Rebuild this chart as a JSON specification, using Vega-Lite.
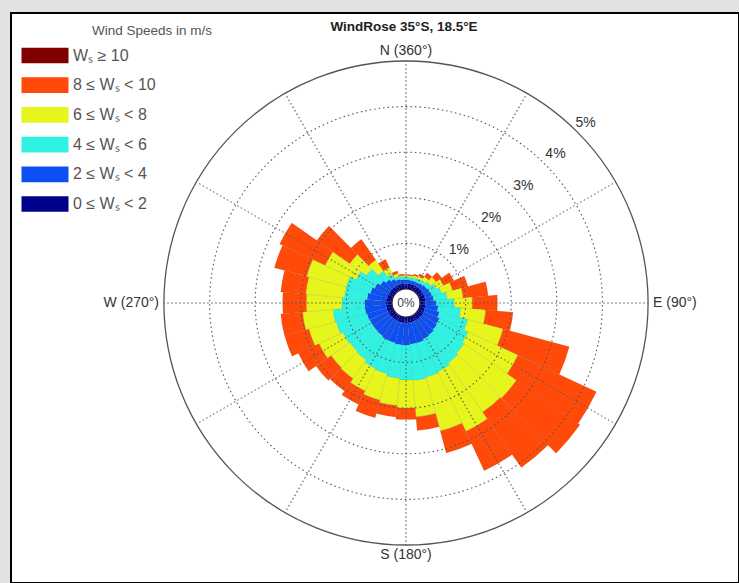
{
  "$schema": "https://vega.github.io/schema/vega-lite/v6.json",
  "width": 728,
  "height": 570,
  "autosize": {"type": "none"},
  "padding": {"left": 11, "top": 13, "right": 0, "bottom": 0},
  "background": "#e2e2e2",
  "config": {
    "font": "Liberation Sans",
    "view": {"fill": "white", "stroke": "black", "strokeWidth": 2}
  },
  "title": {
    "text": "WindRose 35°S, 18.5°E",
    "fontSize": 13.5,
    "fontWeight": "bold",
    "color": "#222222",
    "anchor": "middle",
    "frame": "group",
    "offset": -20,
    "dx": 29
  },
  "datasets": {
    "rose": [
      {"dir": 0, "w0": 0.12, "w2": 0.08, "w4": 0.07, "w6": 0.03, "w8": 0.02},
      {"dir": 10, "w0": 0.12, "w2": 0.08, "w4": 0.06, "w6": 0.04, "w8": 0.02},
      {"dir": 20, "w0": 0.12, "w2": 0.08, "w4": 0.07, "w6": 0.05, "w8": 0.03},
      {"dir": 30, "w0": 0.12, "w2": 0.08, "w4": 0.08, "w6": 0.07, "w8": 0.05},
      {"dir": 40, "w0": 0.12, "w2": 0.10, "w4": 0.08, "w6": 0.10, "w8": 0.10},
      {"dir": 50, "w0": 0.12, "w2": 0.12, "w4": 0.11, "w6": 0.15, "w8": 0.15},
      {"dir": 60, "w0": 0.12, "w2": 0.14, "w4": 0.16, "w6": 0.18, "w8": 0.25},
      {"dir": 70, "w0": 0.12, "w2": 0.16, "w4": 0.22, "w6": 0.25, "w8": 0.35},
      {"dir": 80, "w0": 0.12, "w2": 0.18, "w4": 0.30, "w6": 0.35, "w8": 0.55},
      {"dir": 90, "w0": 0.12, "w2": 0.23, "w4": 0.40, "w6": 0.40, "w8": 0.55},
      {"dir": 100, "w0": 0.12, "w2": 0.28, "w4": 0.50, "w6": 0.55, "w8": 0.60},
      {"dir": 110, "w0": 0.12, "w2": 0.33, "w4": 0.65, "w6": 0.80, "w8": 1.50},
      {"dir": 120, "w0": 0.13, "w2": 0.37, "w4": 0.70, "w6": 1.20, "w8": 1.90},
      {"dir": 130, "w0": 0.13, "w2": 0.39, "w4": 0.73, "w6": 1.40, "w8": 1.70},
      {"dir": 140, "w0": 0.13, "w2": 0.42, "w4": 0.75, "w6": 1.32, "w8": 1.48},
      {"dir": 150, "w0": 0.13, "w2": 0.44, "w4": 0.78, "w6": 1.45, "w8": 0.95},
      {"dir": 160, "w0": 0.13, "w2": 0.47, "w4": 0.78, "w6": 1.22, "w8": 0.50},
      {"dir": 170, "w0": 0.13, "w2": 0.47, "w4": 0.80, "w6": 0.80, "w8": 0.30},
      {"dir": 180, "w0": 0.13, "w2": 0.49, "w4": 0.76, "w6": 0.62, "w8": 0.25},
      {"dir": 190, "w0": 0.13, "w2": 0.49, "w4": 0.73, "w6": 0.60, "w8": 0.25},
      {"dir": 200, "w0": 0.13, "w2": 0.47, "w4": 0.70, "w6": 0.60, "w8": 0.40},
      {"dir": 210, "w0": 0.13, "w2": 0.47, "w4": 0.68, "w6": 0.54, "w8": 0.33},
      {"dir": 220, "w0": 0.13, "w2": 0.45, "w4": 0.64, "w6": 0.50, "w8": 0.33},
      {"dir": 230, "w0": 0.13, "w2": 0.44, "w4": 0.63, "w6": 0.50, "w8": 0.40},
      {"dir": 240, "w0": 0.13, "w2": 0.44, "w4": 0.65, "w6": 0.58, "w8": 0.50},
      {"dir": 250, "w0": 0.13, "w2": 0.45, "w4": 0.70, "w6": 0.62, "w8": 0.55},
      {"dir": 260, "w0": 0.13, "w2": 0.47, "w4": 0.70, "w6": 0.67, "w8": 0.48},
      {"dir": 270, "w0": 0.13, "w2": 0.47, "w4": 0.50, "w6": 0.78, "w8": 0.52},
      {"dir": 280, "w0": 0.13, "w2": 0.42, "w4": 0.50, "w6": 0.85, "w8": 0.55},
      {"dir": 290, "w0": 0.12, "w2": 0.38, "w4": 0.55, "w6": 0.90, "w8": 0.73},
      {"dir": 300, "w0": 0.12, "w2": 0.33, "w4": 0.45, "w6": 0.75, "w8": 1.10},
      {"dir": 310, "w0": 0.12, "w2": 0.26, "w4": 0.37, "w6": 0.45, "w8": 0.88},
      {"dir": 320, "w0": 0.12, "w2": 0.20, "w4": 0.23, "w6": 0.30, "w8": 0.55},
      {"dir": 330, "w0": 0.12, "w2": 0.15, "w4": 0.13, "w6": 0.15, "w8": 0.20},
      {"dir": 340, "w0": 0.12, "w2": 0.11, "w4": 0.07, "w6": 0.06, "w8": 0.06},
      {"dir": 350, "w0": 0.12, "w2": 0.09, "w4": 0.06, "w6": 0.03, "w8": 0.03}
    ],
    "rings": [{"p": 1, "t": "1%"}, {"p": 2, "t": "2%"}, {"p": 3, "t": "3%"}, {"p": 4, "t": "4%"}],
    "outer": [{"p": 5, "t": "5%"}],
    "spokes": [{"a": 0}, {"a": 30}, {"a": 60}, {"a": 90}, {"a": 120}, {"a": 150}, {"a": 180}, {"a": 210}, {"a": 240}, {"a": 270}, {"a": 300}, {"a": 330}],
    "compass": [
      {"a": 0, "t": "N (360°)"},
      {"a": 90, "t": "E (90°)"},
      {"a": 180, "t": "S (180°)"},
      {"a": 270, "t": "W (270°)"}
    ]
  },
  "layer": [
    {
      "data": {"name": "rose"},
      "transform": [
        {"fold": ["w0", "w2", "w4", "w6", "w8"], "as": ["bin", "f"]},
        {"stack": "f", "groupby": ["dir"], "sort": [{"field": "bin", "order": "ascending"}], "as": ["r0", "r1"]},
        {"bin": {"step": 10, "extent": [-5, 355], "nice": false}, "field": "dir", "as": ["a0", "a1"]}
      ],
      "mark": {"type": "arc", "stroke": "#000000", "strokeOpacity": 0.12, "strokeWidth": 0.6},
      "encoding": {
        "x": {"datum": 0, "type": "quantitative", "scale": {"domain": [-395, 333], "nice": false, "zero": false}, "axis": null},
        "y": {"datum": 0, "type": "quantitative", "scale": {"domain": [-280, 290], "nice": false, "zero": false}, "axis": null},
        "theta": {"field": "a0", "type": "quantitative", "stack": null, "scale": {"type": "linear", "domain": [0, 360], "range": [0, 6.283185307179586], "zero": false, "nice": false}},
        "theta2": {"field": "a1"},
        "radius": {"field": "r1", "type": "quantitative", "stack": null, "scale": {"type": "linear", "domain": [0, 5], "range": [14, 242], "zero": false, "nice": false}},
        "radius2": {"field": "r0"},
        "color": {
          "field": "bin",
          "type": "nominal",
          "scale": {
            "domain": ["w10", "w8", "w6", "w4", "w2", "w0"],
            "range": ["#800000", "#ff4a0a", "#e6f51c", "#2ff2e2", "#0d4ff2", "#00008c"]
          },
          "legend": {
            "orient": "none",
            "legendX": 18,
            "legendY": 11,
            "title": "Wind Speeds in m/s",
            "titleFontSize": 13.5,
            "titleFontWeight": "normal",
            "titleColor": "#555555",
            "titleAnchor": "middle",
            "titleAlign": "left",
            "titlePadding": 2,
            "labelFontSize": 16,
            "labelColor": "#555555",
            "labelOffset": 12,
            "symbolType": "M-1.5,-0.5H1.5V0.5H-1.5Z",
            "symbolSize": 982,
            "symbolStrokeWidth": 0,
            "symbolOpacity": 1,
            "rowPadding": 5.7,
            "labelExpr": "{'w10': 'Wₛ ≥ 10', 'w8': '8 ≤ Wₛ < 10', 'w6': '6 ≤ Wₛ < 8', 'w4': '4 ≤ Wₛ < 6', 'w2': '2 ≤ Wₛ < 4', 'w0': '0 ≤ Wₛ < 2'}[datum.label]"
          }
        }
      }
    },
    {
      "data": {"name": "rings"},
      "mark": {"type": "arc", "filled": false, "stroke": "#555555", "strokeWidth": 1.1, "strokeDash": [1.5, 3]},
      "encoding": {
        "x": {"datum": 0, "type": "quantitative"},
        "y": {"datum": 0, "type": "quantitative"},
        "theta": {"datum": 0, "type": "quantitative"},
        "theta2": {"datum": 360},
        "radius": {"field": "p", "type": "quantitative", "stack": null},
        "radius2": {"value": 0}
      }
    },
    {
      "data": {"name": "spokes"},
      "mark": {"type": "arc", "filled": false, "stroke": "#555555", "strokeWidth": 1.1, "strokeDash": [1.5, 2.5], "strokeDashOffset": 0.75},
      "encoding": {
        "x": {"datum": 0, "type": "quantitative"},
        "y": {"datum": 0, "type": "quantitative"},
        "theta": {"field": "a", "type": "quantitative", "stack": null},
        "theta2": {"field": "a"},
        "radius": {"datum": 5, "type": "quantitative"},
        "radius2": {"datum": 0}
      }
    },
    {
      "data": {"name": "outer"},
      "mark": {"type": "arc", "filled": false, "stroke": "#555555", "strokeWidth": 1.3},
      "encoding": {
        "x": {"datum": 0, "type": "quantitative"},
        "y": {"datum": 0, "type": "quantitative"},
        "theta": {"datum": 0, "type": "quantitative"},
        "theta2": {"datum": 360},
        "radius": {"field": "p", "type": "quantitative", "stack": null},
        "radius2": {"value": 0}
      }
    },
    {
      "data": {"values": [{"p": 0, "t": "0%"}]},
      "mark": {"type": "arc", "fill": "white", "stroke": "#222222", "strokeWidth": 1.2},
      "encoding": {
        "x": {"datum": 0, "type": "quantitative"},
        "y": {"datum": 0, "type": "quantitative"},
        "theta": {"datum": 0, "type": "quantitative"},
        "theta2": {"datum": 360},
        "radius": {"field": "p", "type": "quantitative", "stack": null},
        "radius2": {"value": 0}
      }
    },
    {
      "data": {"values": [{"p": 0, "t": "0%"}]},
      "mark": {"type": "text", "fontSize": 12, "color": "#444444", "align": "center", "baseline": "middle"},
      "encoding": {
        "x": {"datum": 0, "type": "quantitative"},
        "y": {"datum": 0, "type": "quantitative"},
        "text": {"field": "t"}
      }
    },
    {
      "data": {"name": "rings"},
      "mark": {"type": "text", "fontSize": 14, "color": "#333333", "align": "center", "baseline": "middle", "radiusOffset": 15},
      "encoding": {
        "x": {"datum": 0, "type": "quantitative"},
        "y": {"datum": 0, "type": "quantitative"},
        "theta": {"datum": 45, "type": "quantitative"},
        "radius": {"field": "p", "type": "quantitative", "stack": null},
        "text": {"field": "t"}
      }
    },
    {
      "data": {"name": "outer"},
      "mark": {"type": "text", "fontSize": 14, "color": "#333333", "align": "center", "baseline": "middle", "radiusOffset": 12},
      "encoding": {
        "x": {"datum": 0, "type": "quantitative"},
        "y": {"datum": 0, "type": "quantitative"},
        "theta": {"datum": 45, "type": "quantitative"},
        "radius": {"field": "p", "type": "quantitative", "stack": null},
        "text": {"field": "t"}
      }
    },
    {
      "data": {"name": "compass"},
      "transform": [{"filter": "datum.a == 0 || datum.a == 180"}],
      "mark": {"type": "text", "fontSize": 14, "color": "#333333", "align": "center", "baseline": "middle", "radiusOffset": 10},
      "encoding": {
        "x": {"datum": 0, "type": "quantitative"},
        "y": {"datum": 0, "type": "quantitative"},
        "theta": {"field": "a", "type": "quantitative", "stack": null},
        "radius": {"datum": 5, "type": "quantitative"},
        "text": {"field": "t"}
      }
    },
    {
      "data": {"name": "compass"},
      "transform": [{"filter": "datum.a == 90"}],
      "mark": {"type": "text", "fontSize": 14, "color": "#333333", "align": "left", "baseline": "middle", "radiusOffset": 5},
      "encoding": {
        "x": {"datum": 0, "type": "quantitative"},
        "y": {"datum": 0, "type": "quantitative"},
        "theta": {"field": "a", "type": "quantitative", "stack": null},
        "radius": {"datum": 5, "type": "quantitative"},
        "text": {"field": "t"}
      }
    },
    {
      "data": {"name": "compass"},
      "transform": [{"filter": "datum.a == 270"}],
      "mark": {"type": "text", "fontSize": 14, "color": "#333333", "align": "right", "baseline": "middle", "radiusOffset": 5},
      "encoding": {
        "x": {"datum": 0, "type": "quantitative"},
        "y": {"datum": 0, "type": "quantitative"},
        "theta": {"field": "a", "type": "quantitative", "stack": null},
        "radius": {"datum": 5, "type": "quantitative"},
        "text": {"field": "t"}
      }
    }
  ]
}
